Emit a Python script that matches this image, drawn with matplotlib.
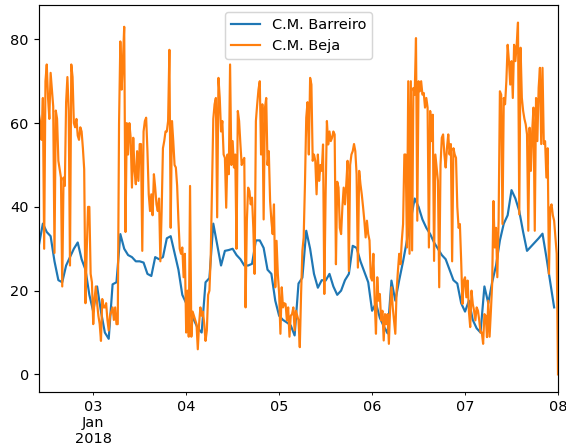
import matplotlib
matplotlib.use("Agg")
import matplotlib.pyplot as plt
import pandas as pd

# ---- data ----
series_names = ["C.M. Barreiro", "C.M. Beja"]

# hourly, from 2018-01-02 10:00
barreiro = [
    31, 36, 34, 33, 27, 22.5, 22, 26, 28, 30,
    31.5, 27.5, 25, 19, 15, 21, 15, 10, 8.5, 21.5,
    22, 33.5, 30, 28.5, 28, 27, 27, 26.7, 24, 23.5,
    28, 27.5, 28, 32.5, 33, 29, 25, 19, 17, 14.5,
    13, 11, 10, 22, 23, 36, 31, 26, 29.5, 29.7,
    30, 28.5, 27.5, 26, 26, 26.4, 32, 32, 30.2, 25,
    24, 17.6, 14, 13, 12.4, 11.7, 9.3, 21.7, 23.1, 34.3,
    30, 24, 20.7, 22.5, 22.4, 24, 21, 19, 20, 22.5,
    24, 30.7, 30.2, 27, 24.5, 22, 15.2, 17, 13.5, 11.5,
    9.8, 22.4, 17.6, 22.5, 27, 32, 37, 42, 40, 37,
    35, 33.5, 31.5, 30, 28.5, 27.5, 25, 22.5, 21.7, 17,
    15, 17.6, 13, 11, 10, 21, 17, 22, 26, 32,
    36, 38, 44, 42, 39, 34, 29.5, 30.5, 31.5, 32.5,
    33.6, 28, 22, 16,
]

# every 20 minutes, from 2018-01-02 10:00 to 2018-01-08 00:00
beja = [
    62, 60, 56, 66, 30, 70, 74, 66, 61, 72,
    68, 64, 29, 63, 61, 51, 49, 47, 21, 47,
    45, 65, 71, 63, 26, 74, 71, 60, 59, 61,
    57, 56, 59, 58, 54, 49, 17, 30, 40, 40,
    24, 22, 12, 18, 21, 17, 14, 12, 8, 18,
    16, 16, 17, 13, 10.5, 14, 15, 16,
    13, 16, 12, 12, 60, 79.5, 68, 75, 83, 34,
    60, 52.5, 60, 56.5, 44.6, 56.5, 48.6, 45.4, 53.3, 46.2,
    55, 55, 29.5, 58, 60.5, 61.3, 53.3, 43, 39, 43,
    38, 47.8, 44.6, 40.6, 39, 42, 27, 39, 54, 55.7,
    58, 58, 60.5, 77.5, 35, 60.5, 55.7, 50, 49.4, 45,
    36.7, 30, 28.8, 30.3, 23.2, 28.8, 10,
    20, 9, 45, 9, 15, 14, 13, 12, 6, 12,
    16, 14, 15, 12, 8, 10.5, 19, 20, 28, 45,
    61, 64.5, 66, 37.5, 70.8, 66, 58, 60.5, 52.5, 51.7,
    39.8, 52.5, 47.8, 74, 50, 55.7, 49.4, 52.5, 30, 62.9,
    60.5, 55, 50, 51, 51.7, 16, 36.7, 44.6, 43.8, 40.6,
    42.2, 35, 24, 60.5, 64.5, 68, 70, 52.5,
    64.5, 37, 63.6, 66, 50, 53.3, 41.4, 36.7, 33.5, 40.6,
    20.8, 31.9, 24, 19.2, 9.7, 20.8, 16, 17, 16.8, 12.9,
    16, 9, 14, 14.4, 16, 10.5, 15.2, 14, 12.9, 6.5,
    19.2, 29.5, 32.7, 45.4, 61.3, 65, 52.5, 70.8, 69.2, 51,
    52.5, 51, 43, 52.5, 46.2, 50, 48.6, 54.9, 19.2, 43,
    60.5, 54.9, 58, 55.7, 56.5, 58, 57.3,
    26.3, 46, 44.6, 35, 33.5, 40, 44.6, 40.6, 45.4, 51,
    24.7, 50, 52.5, 53.3, 55, 53.3, 47.8, 25.5, 48.6, 45.4,
    43, 40, 36.7, 32.7, 36.7, 33.5, 32, 23.2, 22.4, 28.8,
    17.6, 9.7, 23.2, 17.6, 19.2, 12.9, 15.2, 8.1, 14.4, 12,
    14.4, 7.3, 16, 20.8, 16, 12.9, 9.7, 20, 24.7, 28.8,
    26.3, 31.9, 35.9, 52.5, 52.5, 30.3, 70,
    28.8, 70, 29.6, 68.4, 66.8, 80.3, 36.7, 70, 67.6, 70,
    66.8, 67.2, 63.7, 66, 63.7, 30.3, 62.9, 55.7, 62, 27.1,
    52.5, 49.4, 46.2, 20.8, 50, 56.5, 57.3, 52.5, 49.4, 54.1,
    57.3, 52.5, 55, 27, 54, 52.5, 51.7, 40, 35, 35.9,
    27.1, 16.8, 22.4, 23.2, 18.4, 22.4, 15, 11.3, 20, 16.8,
    15.2, 12.9, 16, 15.2, 12.9, 10,
    10, 7.3, 14.4, 14, 8.9, 17.6, 9, 15, 21.6, 41.4,
    30.3, 35, 23.2, 36.7, 67.6, 66.8, 35.9, 66, 64.5, 70,
    78.7, 74.8, 69.2, 74.8, 66, 78.7, 74.8, 78.7, 84, 38.2,
    78, 66, 62.9, 61, 59.7, 57.3, 34.3, 58.9, 48.6, 58.1,
    63.7, 34.3, 66, 55.7, 68.4, 73.2, 55, 73.2, 55, 55.7,
    47, 54, 24, 39.8, 40.6, 38, 36.7, 32.7, 28.8, 0,
]

tick_labels = ["03\nJan\n2018", "04", "05", "06", "07", "08"]

start = "2018-01-02 10:00"
t_barreiro = pd.date_range(start, periods=len(barreiro), freq="h")
t_beja = pd.date_range(start, periods=len(beja), freq="20min")
tick_days = pd.date_range("2018-01-03", periods=len(tick_labels), freq="D")

# ---- figure ----
W, H = 566, 448
dpi = 104.6
fig = plt.figure(figsize=(W / dpi, H / dpi), dpi=dpi)
ax = fig.add_axes([39 / W, (H - 392) / H, 519 / W, 387 / H])

ax.plot(t_barreiro, barreiro, color="#1f77b4", lw=1.5, label=series_names[0])
ax.plot(t_beja, beja, color="#ff7f0e", lw=1.5, label=series_names[1])

ax.set_xlim(pd.Timestamp(start), pd.Timestamp("2018-01-08 00:00"))
ax.set_xticks(tick_days, tick_labels)
ax.tick_params(axis="x", length=2.0, width=0.6)
ax.set_yticks([0, 20, 40, 60, 80])

ax.legend(loc="upper center")

fig.savefig("out.png", dpi=dpi)
